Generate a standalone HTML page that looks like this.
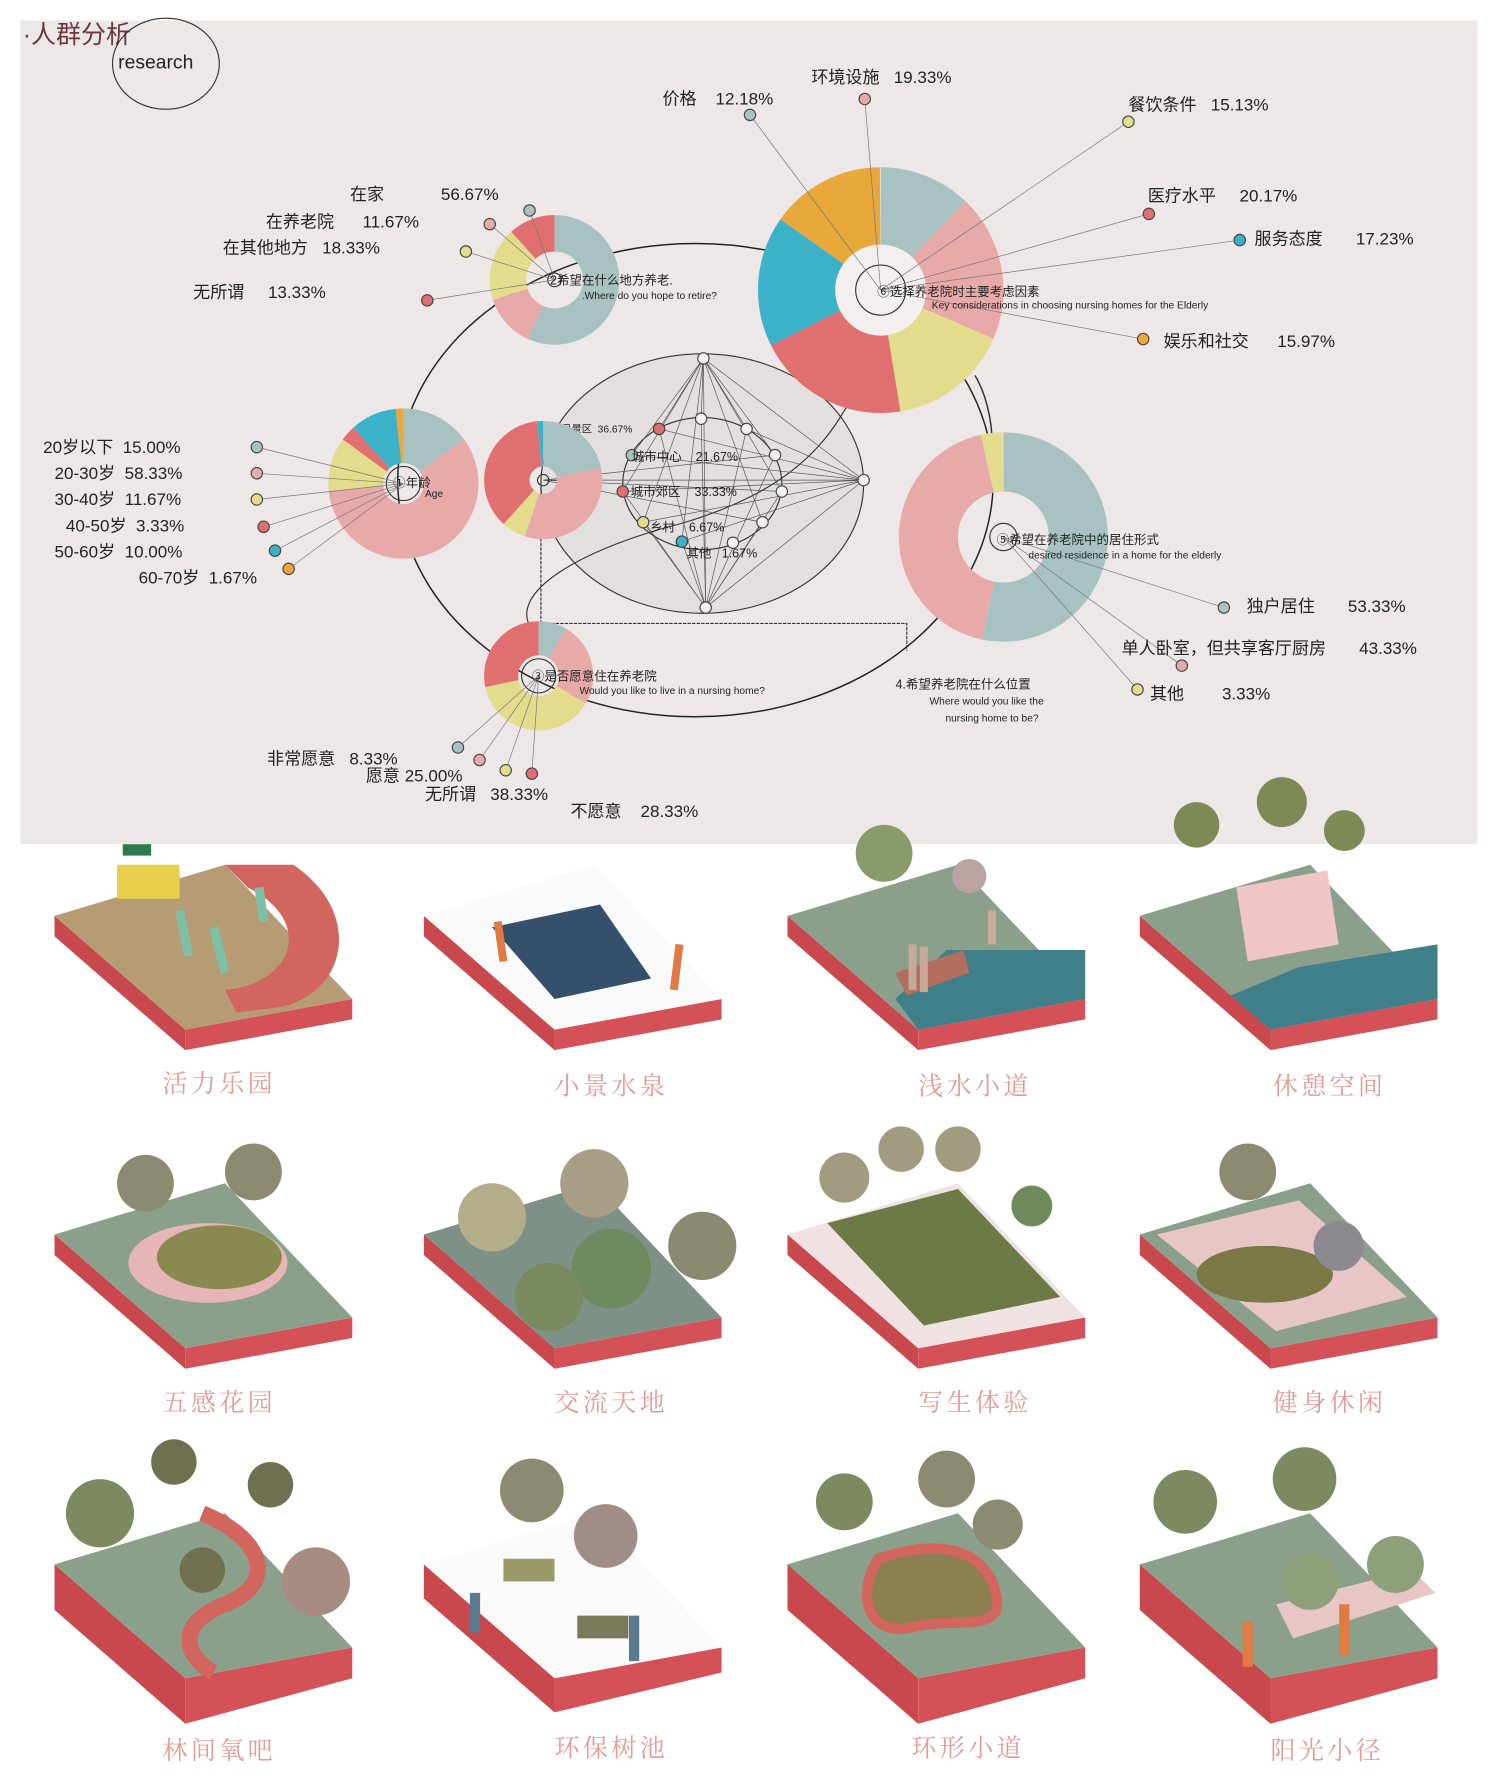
<!DOCTYPE html>
<html><head><meta charset="utf-8"><style>
html,body{margin:0;padding:0;background:#fff;}
svg{display:block;}
text{font-family:"Liberation Sans","Noto Sans CJK SC",sans-serif;fill:#222;white-space:pre;}
.lb{font-size:15px;}
.sm{font-size:11px;}
.xs{font-size:9px;}
.tt{font-family:"Noto Serif CJK SC","Liberation Serif",serif;font-size:22px;fill:#e39b96;letter-spacing:3px;}
</style></head><body>
<svg width="1500" height="1784" viewBox="0 0 1320 1568" preserveAspectRatio="none" xmlns="http://www.w3.org/2000/svg" xml:space="preserve">
<rect x="0" y="0" width="1320" height="1568" fill="#fff"/>
<rect x="18" y="18" width="1282" height="724" fill="#ede7e8"/>
<text x="20" y="38" style="font-size:22px;fill:#6a3a3a">·人群分析</text>
<ellipse cx="146" cy="56" rx="47" ry="40" fill="none" stroke="#333" stroke-width="1"/>
<text x="104" y="60" style="font-size:17px">research</text>

<ellipse cx="612" cy="422" rx="262" ry="208" fill="none" stroke="#222" stroke-width="1.3"/>
<ellipse cx="618" cy="425" rx="142" ry="114" fill="#e3dfdf" stroke="#333" stroke-width="1"/>
<ellipse cx="618" cy="425" rx="70" ry="58" fill="none" stroke="#333" stroke-width="1"/>
<polyline points="476,425 476,548 798,548 798,572" fill="none" stroke="#333" stroke-width="1" stroke-dasharray="3,1"/>
<path d="M470,556 C440,520 520,480 600,460 C700,430 760,380 775,255" fill="none" stroke="#333"/>
<path d="M858,330 C870,350 875,380 872,400" fill="none" stroke="#333" stroke-width="1.3"/>

<g stroke="#555" stroke-width="0.6" fill="none">
<path d="M619,315 L580,377 M619,315 L617,368 M619,315 L657,377 M619,315 L682,400 M619,315 L760,422 M619,315 L556,400 M619,315 L548,432 M619,315 L688,432 M619,315 L566,459 M619,315 L671,459 M619,315 L600,476 M619,315 L621,534"/>
<path d="M621,534 L580,377 M621,534 L617,368 M621,534 L657,377 M621,534 L682,400 M621,534 L760,422 M621,534 L548,432 M621,534 L688,432 M621,534 L566,459 M621,534 L671,459 M621,534 L600,476"/>
<path d="M478,422 L760,422 M478,422 L682,400 M478,422 L688,432 M478,422 L671,459 M760,422 L580,377 M760,422 L556,400 M760,422 L548,432 M760,422 L566,459 M760,422 L600,476 M760,422 L657,377"/>
</g>
<g fill="#f3f0f0" stroke="#444" stroke-width="1">
<circle cx="619" cy="315" r="5"/><circle cx="621" cy="534" r="5"/><circle cx="760" cy="422" r="5"/>
<circle cx="617" cy="368" r="5"/><circle cx="657" cy="377" r="5"/><circle cx="682" cy="400" r="5"/><circle cx="688" cy="432" r="5"/><circle cx="671" cy="459" r="5"/><circle cx="645" cy="477" r="5"/>
</g>
<circle cx="580" cy="377" r="5" fill="#e07070" stroke="#444"/>
<circle cx="556" cy="400" r="5" fill="#a8c2c2" stroke="#444"/>
<circle cx="548" cy="432" r="5" fill="#e07070" stroke="#444"/>
<circle cx="566" cy="459" r="5" fill="#e3dc8c" stroke="#444"/>
<circle cx="600" cy="476" r="5" fill="#3bb2c8" stroke="#444"/>
<text x="494" y="380" class="xs">风景区  36.67%</text>
<text x="556" y="405" class="sm">城市中心    21.67%</text>
<text x="555" y="436" class="sm">城市郊区    33.33%</text>
<text x="572" y="467" class="sm">乡村    6.67%</text>
<text x="604" y="490" class="sm">其他   1.67%</text>

<g transform="translate(488,246) rotate(-90)" fill="none" stroke-width="32">
<circle r="41" pathLength="100" stroke="#a8c2c2" stroke-dasharray="56.67 100"/>
<circle r="41" pathLength="100" stroke="#e8aaa9" stroke-dasharray="13.33 100" stroke-dashoffset="-56.67"/>
<circle r="41" pathLength="100" stroke="#e3dc8c" stroke-dasharray="18.33 100" stroke-dashoffset="-70"/>
<circle r="41" pathLength="100" stroke="#e07070" stroke-dasharray="11.67 100" stroke-dashoffset="-88.33"/>
</g>
<g transform="translate(775,255) rotate(-90)" fill="none" stroke-width="68">
<circle r="74" pathLength="100" stroke="#a8c2c2" stroke-dasharray="12.18 100"/>
<circle r="74" pathLength="100" stroke="#e8aaa9" stroke-dasharray="19.33 100" stroke-dashoffset="-12.18"/>
<circle r="74" pathLength="100" stroke="#e3dc8c" stroke-dasharray="15.97 100" stroke-dashoffset="-31.51"/>
<circle r="74" pathLength="100" stroke="#e07070" stroke-dasharray="20.17 100" stroke-dashoffset="-47.48"/>
<circle r="74" pathLength="100" stroke="#3bb2c8" stroke-dasharray="17.23 100" stroke-dashoffset="-67.65"/>
<circle r="74" pathLength="100" stroke="#e8a83a" stroke-dasharray="15.13 100" stroke-dashoffset="-84.88"/>
</g>
<circle cx="775" cy="255" r="40" fill="#f3efef"/>
<g transform="translate(355,425) rotate(-90)" fill="none" stroke-width="48">
<circle r="42" pathLength="100" stroke="#a8c2c2" stroke-dasharray="15 100"/>
<circle r="42" pathLength="100" stroke="#e8aaa9" stroke-dasharray="58.33 100" stroke-dashoffset="-15"/>
<circle r="42" pathLength="100" stroke="#e3dc8c" stroke-dasharray="11.67 100" stroke-dashoffset="-73.33"/>
<circle r="42" pathLength="100" stroke="#e07070" stroke-dasharray="3.33 100" stroke-dashoffset="-85"/>
<circle r="42" pathLength="100" stroke="#3bb2c8" stroke-dasharray="10 100" stroke-dashoffset="-88.33"/>
<circle r="42" pathLength="100" stroke="#e8a83a" stroke-dasharray="1.67 100" stroke-dashoffset="-98.33"/>
</g>
<g transform="translate(478,422) rotate(-90)" fill="none" stroke-width="40">
<circle r="32" pathLength="100" stroke="#a8c2c2" stroke-dasharray="21.67 100"/>
<circle r="32" pathLength="100" stroke="#e8aaa9" stroke-dasharray="33.33 100" stroke-dashoffset="-21.67"/>
<circle r="32" pathLength="100" stroke="#e3dc8c" stroke-dasharray="6.67 100" stroke-dashoffset="-55"/>
<circle r="32" pathLength="100" stroke="#e07070" stroke-dasharray="36.67 100" stroke-dashoffset="-61.67"/>
<circle r="32" pathLength="100" stroke="#3bb2c8" stroke-dasharray="1.67 100" stroke-dashoffset="-98.33"/>
</g>
<g transform="translate(883,472) rotate(-90)" fill="none" stroke-width="52">
<circle r="66" pathLength="100" stroke="#a8c2c2" stroke-dasharray="53.33 100"/>
<circle r="66" pathLength="100" stroke="#e8aaa9" stroke-dasharray="43.33 100" stroke-dashoffset="-53.33"/>
<circle r="66" pathLength="100" stroke="#e3dc8c" stroke-dasharray="3.33 100" stroke-dashoffset="-96.66"/>
</g>
<g transform="translate(474,594) rotate(-90)" fill="none" stroke-width="30">
<circle r="33" pathLength="100" stroke="#a8c2c2" stroke-dasharray="8.33 100"/>
<circle r="33" pathLength="100" stroke="#e8aaa9" stroke-dasharray="25 100" stroke-dashoffset="-8.33"/>
<circle r="33" pathLength="100" stroke="#e3dc8c" stroke-dasharray="38.33 100" stroke-dashoffset="-33.33"/>
<circle r="33" pathLength="100" stroke="#e07070" stroke-dasharray="28.33 100" stroke-dashoffset="-71.66"/>
</g>
<g fill="none" stroke="#333" stroke-width="1">
<circle cx="775" cy="255" r="22"/><circle cx="355" cy="425" r="15"/><circle cx="883" cy="472" r="12"/><circle cx="474" cy="594" r="15"/><circle cx="478" cy="422" r="5"/><circle cx="488" cy="246" r="6"/>
</g>

<g stroke="#777" stroke-width="0.6">
<path d="M466,185 L488,246 M431,197 L488,246 M410,221 L488,246 M376,264 L488,246"/>
<path d="M660,101 L775,255 M761,87 L775,255 M993,107 L775,255 M1011,188 L775,255 M1091,211 L775,255 M1006,298 L775,255"/>
<path d="M226,393 L355,425 M226,416 L355,425 M226,439 L355,425 M232,463 L355,425 M242,484 L355,425 M254,500 L355,425"/>
<path d="M1077,534 L883,472 M1040,585 L883,472 M1001,606 L883,472"/>
<path d="M403,657 L474,594 M422,668 L474,594 M445,677 L474,594 M468,680 L474,594"/>
</g>
<g stroke="#444" stroke-width="1">
<circle cx="466" cy="185" r="5" fill="#a8c2c2"/><circle cx="431" cy="197" r="5" fill="#e8aaa9"/><circle cx="410" cy="221" r="5" fill="#e3dc8c"/><circle cx="376" cy="264" r="5" fill="#e07070"/>
<circle cx="660" cy="101" r="5" fill="#a8c2c2"/><circle cx="761" cy="87" r="5" fill="#e8aaa9"/><circle cx="993" cy="107" r="5" fill="#e3dc8c"/><circle cx="1011" cy="188" r="5" fill="#e07070"/><circle cx="1091" cy="211" r="5" fill="#3bb2c8"/><circle cx="1006" cy="298" r="5" fill="#e8a83a"/>
<circle cx="226" cy="393" r="5" fill="#a8c2c2"/><circle cx="226" cy="416" r="5" fill="#e8aaa9"/><circle cx="226" cy="439" r="5" fill="#e3dc8c"/><circle cx="232" cy="463" r="5" fill="#e07070"/><circle cx="242" cy="484" r="5" fill="#3bb2c8"/><circle cx="254" cy="500" r="5" fill="#e8a83a"/>
<circle cx="1077" cy="534" r="5" fill="#a8c2c2"/><circle cx="1040" cy="585" r="5" fill="#e8aaa9"/><circle cx="1001" cy="606" r="5" fill="#e3dc8c"/>
<circle cx="403" cy="657" r="5" fill="#a8c2c2"/><circle cx="422" cy="668" r="5" fill="#e8aaa9"/><circle cx="445" cy="677" r="5" fill="#e3dc8c"/><circle cx="468" cy="680" r="5" fill="#e07070"/>
</g>

<text x="308" y="176" class="lb">在家            56.67%</text>
<text x="234" y="200" class="lb">在养老院      11.67%</text>
<text x="196" y="223" class="lb">在其他地方   18.33%</text>
<text x="170" y="262" class="lb">无所谓     13.33%</text>
<text x="484" y="250" class="sm">2希望在什么地方养老.</text>
<text x="512" y="263" class="xs">.Where do you hope to retire?</text>

<text x="583" y="92" class="lb">价格    12.18%</text>
<text x="714" y="73" class="lb">环境设施   19.33%</text>
<text x="993" y="97" class="lb">餐饮条件   15.13%</text>
<text x="1010" y="177" class="lb">医疗水平     20.17%</text>
<text x="1104" y="215" class="lb">服务态度       17.23%</text>
<text x="1024" y="305" class="lb">娱乐和社交      15.97%</text>
<text x="772" y="260" class="sm">⑥选择养老院时主要考虑因素</text>
<text x="820" y="271" class="xs">Key considerations in choosing nursing homes for the Elderly</text>

<text x="38" y="398" class="lb">20岁以下  15.00%</text>
<text x="48" y="421" class="lb">20-30岁  58.33%</text>
<text x="48" y="444" class="lb">30-40岁  11.67%</text>
<text x="58" y="467" class="lb">40-50岁  3.33%</text>
<text x="48" y="490" class="lb">50-60岁  10.00%</text>
<text x="122" y="513" class="lb">60-70岁  1.67%</text>
<text x="346" y="428" class="sm">①年龄</text>
<text x="374" y="437" class="xs">Age</text>

<text x="877" y="478" class="sm">⑤希望在养老院中的居住形式</text>
<text x="905" y="491" class="xs">desired residence in a home for the elderly</text>
<text x="1097" y="538" class="lb">独户居住       53.33%</text>
<text x="987" y="575" class="lb">单人卧室，但共享客厅厨房       43.33%</text>
<text x="1012" y="615" class="lb">其他        3.33%</text>
<text x="788" y="605" class="sm">4.希望养老院在什么位置</text>
<text x="818" y="619" class="xs">Where would you like the</text>
<text x="832" y="634" class="xs">nursing home to be?</text>

<text x="468" y="598" class="sm">③是否愿意住在养老院</text>
<text x="510" y="610" class="xs">Would you like to live in a nursing home?</text>
<text x="235" y="672" class="lb">非常愿意   8.33%</text>
<text x="322" y="687" class="lb">愿意 25.00%</text>
<text x="374" y="703" class="lb">无所谓   38.33%</text>
<text x="502" y="718" class="lb">不愿意    28.33%</text>

<defs>
<g id="slab">
<polygon points="0,45 115,145 115,163 0,63" fill="#c9484d"/>
<polygon points="115,145 262,118 262,136 115,163" fill="#d45257"/>
</g>
</defs>
<g transform="translate(48,760)"><use href="#slab"/><polygon points="0,45 115,145 262,118 150,0" fill="#b59c74"/><path d="M150,0 L210,0 C270,40 260,110 200,125 L160,130 L150,110 C210,105 230,50 170,20Z" fill="#d2655d"/><rect x="55" y="0" width="55" height="30" fill="#e7cf4c"/><rect x="60" y="-18" width="25" height="10" fill="#2d7a4a"/><path d="M110,40 l8,40 M140,55 l10,40 M180,20 l4,30" stroke="#7fbfa6" stroke-width="8"/></g>
<g transform="translate(373,760)"><use href="#slab"/><polygon points="0,45 115,145 262,118 150,0" fill="#fbfafa"/><polygon points="60,55 155,35 200,100 115,118" fill="#34506a"/><path d="M65,50 l5,35 M225,70 l-5,40" stroke="#e07a45" stroke-width="7"/></g>
<g transform="translate(693,760)"><use href="#slab"/><polygon points="0,45 115,145 262,118 150,0" fill="#8aa08a"/><polygon points="140,75 262,75 262,118 115,145 95,118" fill="#3f7f8a"/><polygon points="95,95 155,75 160,95 105,115" fill="#b26e5e"/><circle cx="85" cy="-10" r="25" fill="#8a9a6a"/><circle cx="160" cy="10" r="15" fill="#b9a3a3"/><path d="M110,70 l0,40 M120,72 l0,40 M180,40 l0,30" stroke="#c8a896" stroke-width="7"/></g>
<g transform="translate(1003,760)"><use href="#slab"/><polygon points="0,45 115,145 262,118 150,0" fill="#8aa08a"/><polygon points="80,115 140,90 262,70 262,118 115,145" fill="#3f7f8a"/><polygon points="85,20 165,5 175,70 95,85" fill="#efc6c3"/><circle cx="50" cy="-35" r="20" fill="#7e8a56"/><circle cx="125" cy="-55" r="22" fill="#7e8a56"/><circle cx="180" cy="-30" r="18" fill="#7e8a56"/></g>
<g transform="translate(48,1040)"><use href="#slab"/><polygon points="0,45 115,145 262,118 150,0" fill="#8aa08a"/><ellipse cx="135" cy="70" rx="70" ry="35" fill="#e6b6b6"/><ellipse cx="145" cy="65" rx="55" ry="28" fill="#8a8a50"/><circle cx="80" cy="0" r="25" fill="#8c8a70"/><circle cx="175" cy="-10" r="25" fill="#8c8a70"/></g>
<g transform="translate(373,1040)"><use href="#slab"/><polygon points="0,45 115,145 262,118 150,0" fill="#7e9186"/><circle cx="60" cy="30" r="30" fill="#b3ad8a"/><circle cx="150" cy="0" r="30" fill="#a89d85"/><circle cx="165" cy="75" r="35" fill="#6d8a5f"/><circle cx="245" cy="55" r="30" fill="#8a8a70"/><circle cx="110" cy="100" r="30" fill="#7a8a60"/></g>
<g transform="translate(693,1040)"><use href="#slab"/><polygon points="0,45 115,145 262,118 150,0" fill="#f0e2e2"/><polygon points="35,35 150,5 240,100 120,125" fill="#6c7a45"/><circle cx="50" cy="-5" r="22" fill="#a19b80"/><circle cx="100" cy="-30" r="20" fill="#a19b80"/><circle cx="150" cy="-30" r="20" fill="#a19b80"/><circle cx="215" cy="20" r="18" fill="#6f8a5a"/></g>
<g transform="translate(1003,1040)"><use href="#slab"/><polygon points="0,45 115,145 262,118 150,0" fill="#8aa08a"/><polygon points="15,45 140,15 235,100 120,130" fill="#e8c6c6"/><ellipse cx="110" cy="80" rx="60" ry="25" fill="#7a7845"/><circle cx="95" cy="-10" r="25" fill="#8c8a70"/><circle cx="175" cy="55" r="22" fill="#8c8a90"/></g>
<g transform="translate(48,1330)"><polygon points="0,45 115,145 115,185 0,85" fill="#c9484d"/><polygon points="115,145 262,118 262,145 115,185" fill="#d45257"/><polygon points="0,45 115,145 262,118 150,0" fill="#8aa08a"/><path d="M130,0 C180,20 200,60 150,80 C100,100 120,130 140,140" stroke="#d2655d" stroke-width="14" fill="none"/><circle cx="40" cy="0" r="30" fill="#7d8a60"/><circle cx="105" cy="-45" r="20" fill="#6f7050"/><circle cx="190" cy="-25" r="20" fill="#6f7050"/><circle cx="230" cy="60" r="30" fill="#a78a80"/><circle cx="130" cy="50" r="20" fill="#6f7050"/></g>
<g transform="translate(373,1330)"><polygon points="0,45 115,145 115,175 0,75" fill="#c9484d"/><polygon points="115,145 262,118 262,140 115,175" fill="#d45257"/><polygon points="0,45 115,145 262,118 150,0" fill="#fbfafa"/><rect x="70" y="40" width="45" height="20" fill="#9a9a6a"/><rect x="135" y="90" width="45" height="20" fill="#7a7a5a"/><circle cx="95" cy="-20" r="28" fill="#8c8a70"/><circle cx="160" cy="20" r="28" fill="#a08c88"/><path d="M45,70 l0,35 M185,90 l0,40" stroke="#5a7a90" stroke-width="9"/></g>
<g transform="translate(693,1330)"><polygon points="0,45 115,145 115,185 0,85" fill="#c9484d"/><polygon points="115,145 262,118 262,145 115,185" fill="#d45257"/><polygon points="0,45 115,145 262,118 150,0" fill="#8aa08a"/><path d="M80,40 C60,70 70,110 110,100 C150,90 200,110 180,60 C160,20 110,30 80,40Z" stroke="#d2655d" stroke-width="9" fill="#8a8050"/><circle cx="50" cy="-10" r="25" fill="#7d8a60"/><circle cx="140" cy="-30" r="25" fill="#8c8a70"/><circle cx="185" cy="10" r="22" fill="#8c8a70"/></g>
<g transform="translate(1003,1330)"><polygon points="0,45 115,145 115,185 0,85" fill="#c9484d"/><polygon points="115,145 262,118 262,145 115,185" fill="#d45257"/><polygon points="0,45 115,145 262,118 150,0" fill="#8aa08a"/><polygon points="120,80 240,50 260,70 135,110" fill="#e8c6c6"/><circle cx="40" cy="-10" r="28" fill="#7d8a60"/><circle cx="145" cy="-30" r="28" fill="#7d8a60"/><circle cx="150" cy="60" r="25" fill="#8ea07a"/><circle cx="225" cy="45" r="25" fill="#8ea07a"/><path d="M95,95 l0,40 M180,80 l0,45" stroke="#e07a45" stroke-width="9"/></g>

<text x="143" y="960" class="tt">活力乐园</text>
<text x="488" y="962" class="tt">小景水泉</text>
<text x="808" y="962" class="tt">浅水小道</text>
<text x="1120" y="962" class="tt">休憩空间</text>
<text x="143" y="1240" class="tt">五感花园</text>
<text x="488" y="1240" class="tt">交流天地</text>
<text x="808" y="1240" class="tt">写生体验</text>
<text x="1120" y="1240" class="tt">健身休闲</text>
<text x="143" y="1546" class="tt">林间氧吧</text>
<text x="488" y="1544" class="tt">环保树池</text>
<text x="802" y="1544" class="tt">环形小道</text>
<text x="1118" y="1546" class="tt">阳光小径</text>
</svg>
</body></html>
